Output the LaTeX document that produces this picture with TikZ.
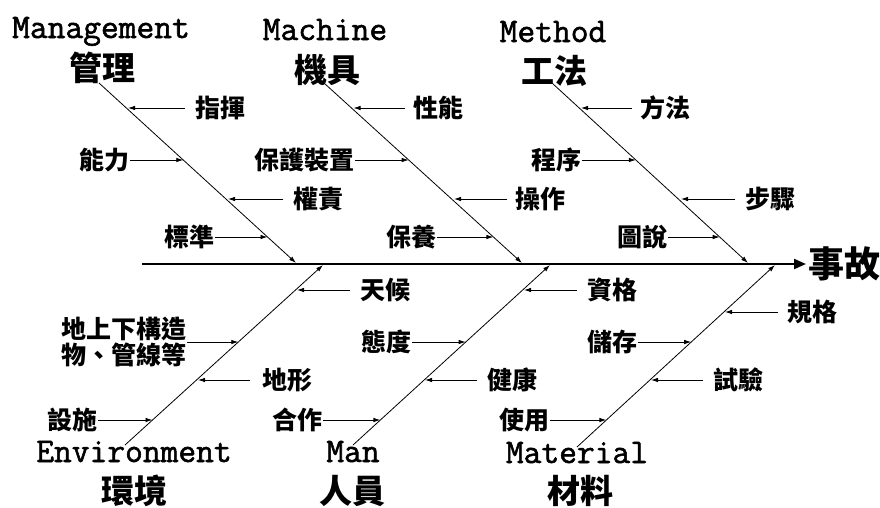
\documentclass[tikz,border=0pt]{standalone}
\usepackage{fontspec}
\newfontfamily\cjk{Noto Sans CJK TC}
\newfontfamily\ttlfont{Latin Modern Mono}[FakeBold=1.6]
\usetikzlibrary{arrows.meta}
\begin{document}
\begin{tikzpicture}[x=1pt,y=-1pt,
  lab/.style={inner sep=0pt,font=\cjk\bfseries\fontsize{25}{26}\selectfont},
  ttl/.style={inner sep=0pt,anchor=base,font=\ttlfont\fontsize{34.5}{36}\selectfont},
  cttl/.style={inner sep=0pt,font=\cjk\bfseries\fontsize{33}{36}\selectfont},
  bone/.style={line width=0.8pt,-{Latex[length=7pt,width=4.5pt]}},
  arr/.style={line width=0.8pt,-{Latex[length=7pt,width=4.5pt]}},
  spine/.style={line width=2.2pt,-{Triangle[length=12pt,width=10pt]}}]
\useasboundingbox (0,0) rectangle (880,507);

% spine
\coordinate (sp0) at (142,264);
\node[inner sep=0pt,anchor=west,font=\cjk\bfseries\fontsize{36}{38}\selectfont] (acc) at (808,264) {事故};
\draw[spine] (sp0) -- ([xshift=-2pt]acc.west);

% titles
\node[ttl] (tMg) at (101,38) {Management};
\node[cttl] (cMg) at (102,68) {管理};
\node[ttl] (tMc) at (325,40) {Machine};
\node[cttl] (cMc) at (327,70) {機具};
\node[ttl] (tMt) at (553,42) {Method};
\node[cttl] (cMt) at (554,71) {工法};
\node[ttl] (tEn) at (134,462) {Environment};
\node[cttl] (cEn) at (134,491) {環境};
\node[ttl] (tMn) at (353,462) {Man};
\node[cttl] (cMn) at (352,491) {人員};
\node[ttl] (tMa) at (577,463) {Material};
\node[cttl] (cMa) at (580,491) {材料};

% bones
\coordinate (mgS) at (99,83);  \coordinate (mgE) at (296,263);
\coordinate (mcS) at (324,83); \coordinate (mcE) at (522,263);
\coordinate (mtS) at (552,83); \coordinate (mtE) at (748,263);
\coordinate (enS) at (125,445); \coordinate (enE) at (323,265);
\coordinate (mnS) at (353,445); \coordinate (mnE) at (550,265);
\coordinate (maS) at (577,447); \coordinate (maE) at (775,265);
\draw[bone] (mgS) -- (mgE);
\draw[bone] (mcS) -- (mcE);
\draw[bone] (mtS) -- (mtE);
\draw[bone] (enS) -- (enE);
\draw[bone] (mnS) -- (mnE);
\draw[bone] (maS) -- (maE);

% Management causes
\node[lab,anchor=west] (a1) at (195,108) {指揮};  \coordinate (pa1) at (128,108);
\node[lab,anchor=east] (a2) at (130,160) {能力};  \coordinate (pa2) at (183.3,160);
\node[lab,anchor=west] (a3) at (293,199) {權責};  \coordinate (pa3) at (228,199);
\node[lab,anchor=east] (a4) at (215,237) {標準};  \coordinate (pa4) at (267.5,237);
\draw[arr] ([xshift=-10pt]a1.west) -- (pa1);
\draw[arr] (a2.east) -- (pa2);
\draw[arr] ([xshift=-10pt]a3.west) -- (pa3);
\draw[arr] (a4.east) -- (pa4);

% Machine causes
\node[lab,anchor=west] (b1) at (413,108) {性能};  \coordinate (pb1) at (353.5,108);
\node[lab,anchor=east] (b2) at (355,160) {保護裝置};  \coordinate (pb2) at (408.7,160);
\node[lab,anchor=west] (b3) at (515,199) {操作};  \coordinate (pb3) at (454,199);
\node[lab,anchor=east] (b4) at (437,237) {保養};  \coordinate (pb4) at (493.4,237);
\draw[arr] ([xshift=-8pt]b1.west) -- (pb1);
\draw[arr] (b2.east) -- (pb2);
\draw[arr] ([xshift=-8pt]b3.west) -- (pb3);
\draw[arr] (b4.east) -- (pb4);

% Method causes
\node[lab,anchor=west] (c1) at (640,108) {方法};  \coordinate (pc1) at (581,108);
\node[lab,anchor=east] (c2) at (582,160) {程序};  \coordinate (pc2) at (635.8,160);
\node[lab,anchor=west] (c3) at (745,199) {步驟};  \coordinate (pc3) at (681,199);
\node[lab,anchor=east] (c4) at (668,237) {圖說};  \coordinate (pc4) at (719.7,237);
\draw[arr] ([xshift=-8pt]c1.west) -- (pc1);
\draw[arr] (c2.east) -- (pc2);
\draw[arr] ([xshift=-10pt]c3.west) -- (pc3);
\draw[arr] (c4.east) -- (pc4);

% Environment causes
\node[lab,anchor=west] (d1) at (360,290) {天候};  \coordinate (pd1) at (297,290);
\node[lab,anchor=east,align=left] (d2) at (187,342) {地上下構造\\物、管線等};  \coordinate (pd2) at (238.3,342);
\node[lab,anchor=west] (d3) at (262,380) {地形};  \coordinate (pd3) at (198,380);
\node[lab,anchor=east] (d4) at (98,420) {設施};  \coordinate (pd4) at (152.5,420);
\draw[arr] ([xshift=-10pt]d1.west) -- (pd1);
\draw[arr] (d2.east) -- (pd2);
\draw[arr] ([xshift=-12pt]d3.west) -- (pd3);
\draw[arr] (d4.east) -- (pd4);

% Man causes
\node[lab,anchor=west] (e1) at (587,290) {資格};  \coordinate (pe1) at (524,290);
\node[lab,anchor=east] (e2) at (412,342) {態度};  \coordinate (pe2) at (465.7,342);
\node[lab,anchor=west] (e3) at (487,380) {健康};  \coordinate (pe3) at (425,380);
\node[lab,anchor=east] (e4) at (323,420) {合作};  \coordinate (pe4) at (380.4,420);
\draw[arr] ([xshift=-10pt]e1.west) -- (pe1);
\draw[arr] (e2.east) -- (pe2);
\draw[arr] ([xshift=-10pt]e3.west) -- (pe3);
\draw[arr] (e4.east) -- (pe4);

% Material causes
\node[lab,anchor=west] (f1) at (787,312) {規格};  \coordinate (pf1) at (725,312);
\node[lab,anchor=east] (f2) at (638,342) {儲存};  \coordinate (pf2) at (691.2,342);
\node[lab,anchor=west] (f3) at (713,380) {試驗};  \coordinate (pf3) at (651,380);
\node[lab,anchor=east] (f4) at (550,420) {使用};  \coordinate (pf4) at (606.4,420);
\draw[arr] ([xshift=-9pt]f1.west) -- (pf1);
\draw[arr] (f2.east) -- (pf2);
\draw[arr] ([xshift=-10pt]f3.west) -- (pf3);
\draw[arr] (f4.east) -- (pf4);
\end{tikzpicture}
\end{document}
